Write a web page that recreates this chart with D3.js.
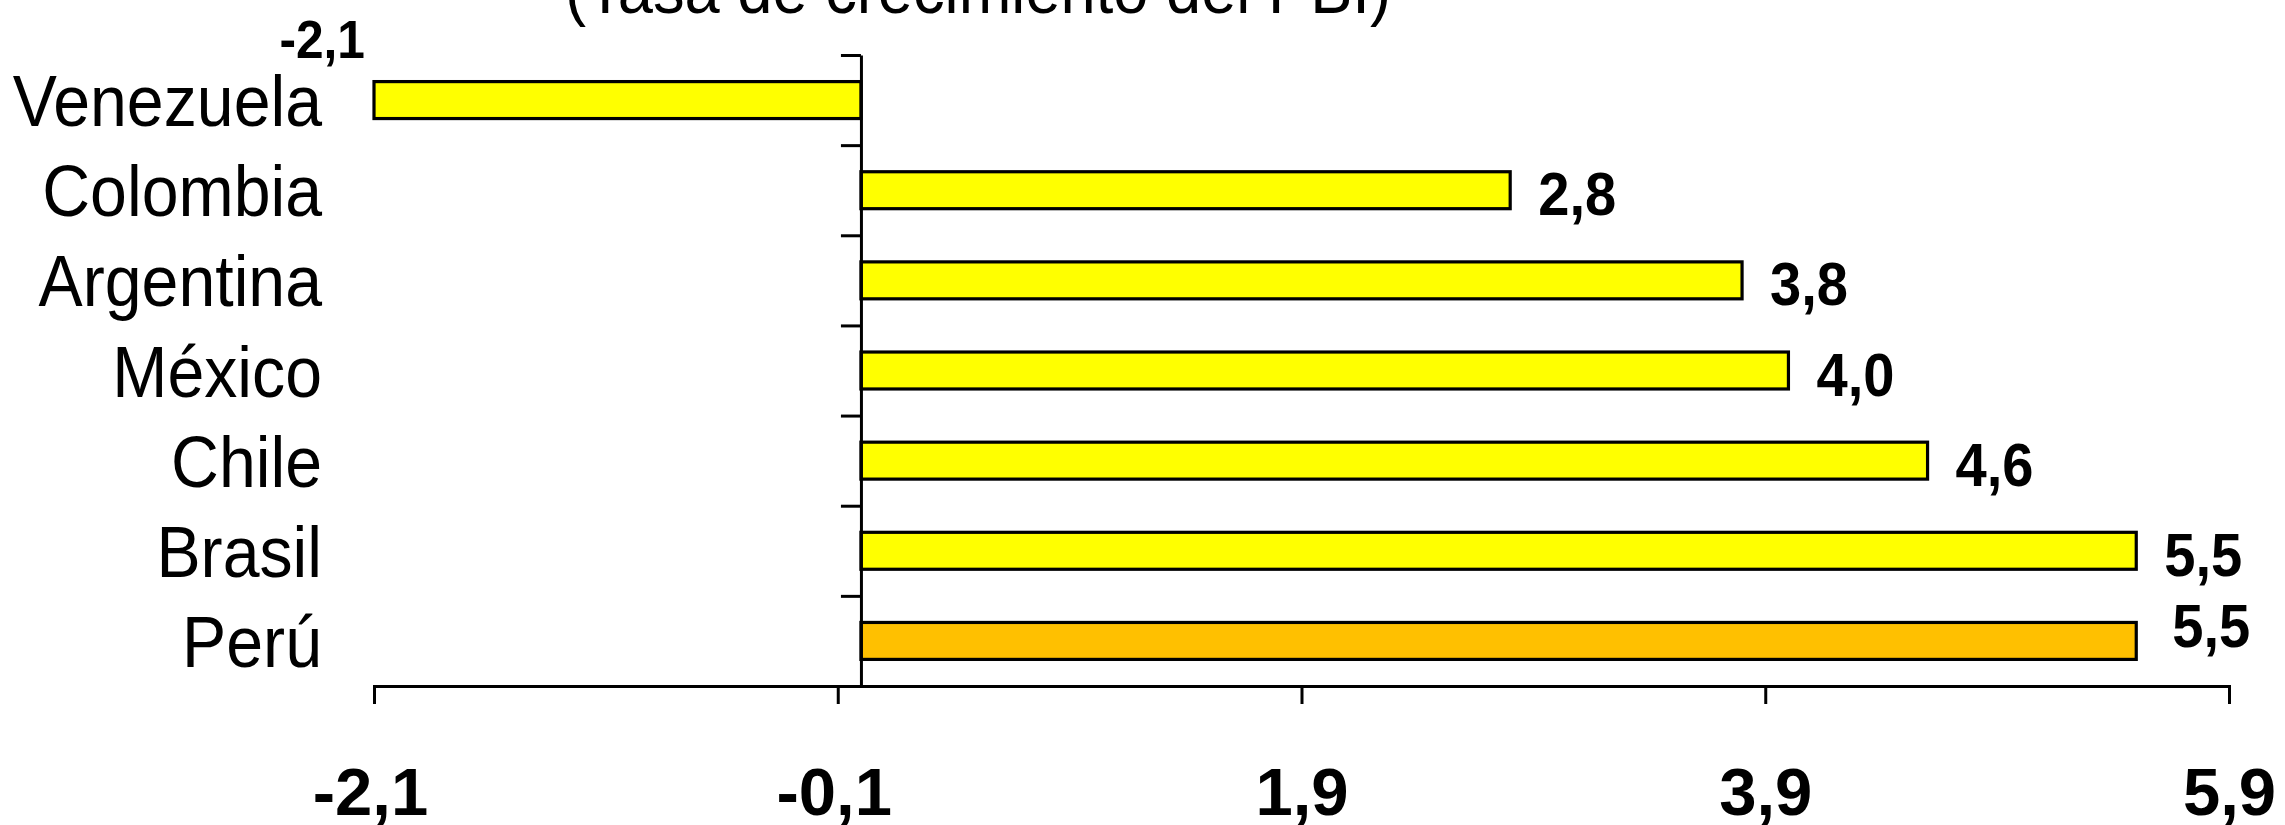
<!DOCTYPE html>
<html lang="es">
<head>
<meta charset="utf-8">
<title>Crecimiento del PBI</title>
<script src="https://cdn.jsdelivr.net/npm/d3@7"></script>
<style>
  html, body { margin: 0; padding: 0; background: #ffffff; }
  svg { display: block; }
  text { font-family: "Liberation Sans", Arial, "DejaVu Sans", sans-serif; fill: #000; }
</style>
</head>
<body>
<svg id="chart" width="2285" height="825"></svg>
<script>
// Países (de arriba hacia abajo) y tasa de crecimiento del PBI, %
const countries = ["Venezuela", "Colombia", "Argentina", "México", "Chile", "Brasil", "Perú"];
const growth = [-2.1, 2.8, 3.8, 4.0, 4.6, 5.5, 5.5];
const highlight = "Perú";
const xTickValues = [-2.1, -0.1, 1.9, 3.9, 5.9];
const title = "(Tasa de crecimiento del PBI)";

const svg = d3.select("#chart");

// Formato numérico con coma decimal
const locale = d3.formatLocale({ decimal: ",", thousands: ".", grouping: [3], currency: ["", ""], minus: "-" });
const fmt = locale.format(".1f");

const plotLeft = 374, plotRight = 2229, plotTop = 55, plotBottom = 686;
const narrow = 0.92; // compresión horizontal del texto

const x = d3.scaleLinear().domain([-2.1, 5.9]).range([plotLeft, plotRight]);
const y = d3.scaleBand().domain(countries).range([plotTop, plotBottom]).paddingInner(0.59).paddingOuter(0.295);

// Título (parcialmente fuera del área visible)
svg.append("text")
  .attr("transform", `translate(978,13) scale(0.93,1)`)
  .attr("text-anchor", "middle")
  .style("font-size", "68px")
  .text(title);

// Barras
const data = countries.map((c, i) => ({ country: c, value: growth[i] }));
svg.append("g").selectAll("rect")
  .data(data)
  .join("rect")
  .attr("x", d => x(Math.min(0, d.value)))
  .attr("width", d => Math.abs(x(d.value) - x(0)))
  .attr("y", d => y(d.country))
  .attr("height", y.bandwidth())
  .attr("fill", d => d.country === highlight ? "#FFC000" : "#FFFF00")
  .attr("stroke", "#000")
  .attr("stroke-width", 3.2);

// Eje X
const xAxis = svg.append("g")
  .attr("transform", `translate(0,${plotBottom})`)
  .call(d3.axisBottom(x).tickValues(xTickValues).tickFormat(fmt).tickSize(18).tickSizeOuter(18).tickPadding(63));
xAxis.selectAll("path, line").attr("stroke", "#000").attr("stroke-width", 3);
xAxis.selectAll("text")
  .attr("x", d => d < 0 ? -4 : 0)
  .style("font-size", "67px").style("font-weight", "bold")
  .style("font-family", "'Liberation Sans', Arial, sans-serif");

// Eje Y: línea en el cero con marcas entre categorías
const yTicks = d3.scaleLinear().domain([0, countries.length]).range([plotTop, plotBottom]);
const yAxis = svg.append("g")
  .attr("transform", `translate(${x(0)},0)`)
  .call(d3.axisLeft(yTicks).ticks(countries.length).tickFormat("").tickSize(20).tickSizeOuter(0));
yAxis.selectAll("path, line").attr("stroke", "#000").attr("stroke-width", 3);

// Nombres de países
svg.append("g").selectAll("text")
  .data(countries)
  .join("text")
  .attr("transform", d => `translate(322,${y(d) + y.bandwidth() / 2 + 26}) scale(${narrow},1)`)
  .attr("text-anchor", "end")
  .style("font-size", "72px")
  .text(d => d);

// Etiquetas de valor
svg.append("g").selectAll("text")
  .data(data)
  .join("text")
  .attr("transform", d => {
    const c = y(d.country) + y.bandwidth() / 2;
    let tx, ty;
    if (d.value < 0) { tx = x(d.value) - 9; ty = c - 42; }
    else if (d.country === highlight) { tx = x(d.value) + 36; ty = c + 6; }
    else { tx = x(d.value) + 28; ty = c + 25; }
    return `translate(${tx},${ty}) scale(${narrow},1)`;
  })
  .attr("text-anchor", d => d.value < 0 ? "end" : "start")
  .style("font-size", d => d.value < 0 ? "54px" : "61px")
  .style("font-weight", "bold")
  .text(d => fmt(d.value));
</script>
</body>
</html>
